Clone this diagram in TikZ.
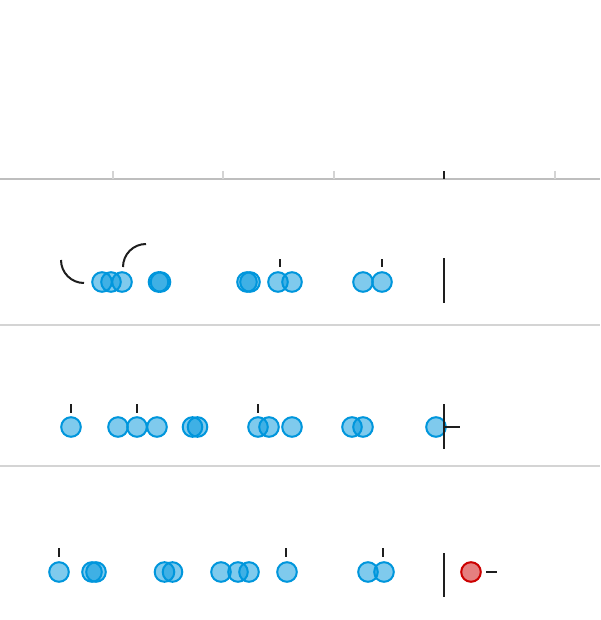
\documentclass[tikz,border=0pt]{standalone}
\usepackage{tikz}
\usetikzlibrary{calc}
\definecolor{dotblue}{RGB}{0,150,220}
\definecolor{dotred}{RGB}{204,0,0}
\definecolor{rulegray}{RGB}{190,190,190}
\definecolor{sepgray}{RGB}{212,212,212}
\definecolor{ink}{RGB}{30,30,30}

\begin{document}
\begin{tikzpicture}[x=0.5pt,y=-0.5pt,
        dot/.style={draw=dotblue,fill=dotblue,fill opacity=0.5,line width=1pt},
        reddot/.style={draw=dotred,fill=dotred,fill opacity=0.5,line width=1pt},
        tickmark/.style={ink,line width=1pt},
        bar/.style={ink,line width=1.3pt}]
        \useasboundingbox (0,0) rectangle (600,620);

        % axis and separators
        \draw [rulegray,line width=0.7pt] (0,179) -- (600,179);
        \foreach \x in {113,223,334,555}
            \draw [sepgray,line width=0.6pt] (\x,171) -- (\x,179);
        \draw [bar] (444,171.5) -- (444,179);
        \draw [sepgray,line width=0.7pt] (0,325) -- (600,325);
        \draw [sepgray,line width=0.7pt] (0,466) -- (600,466);

        % first row
        \def\ya{282}
        \foreach \x in {102,111,122,158.5,160.5,247,250,278,292,363,382}
            \filldraw [dot] (\x,\ya) circle (4.9pt);
        \foreach \x in {280,382}
            \draw [tickmark] (\x,259) -- (\x,267);
        \draw [tickmark] (61,260) arc [start angle=180,end angle=270,radius=11.5pt];
        \draw [tickmark] (123,267) arc [start angle=180,end angle=90,radius=11.5pt];
        \draw [bar] (444,258) -- (444,303);

        % second row
        \def\yb{427}
        \foreach \x in {71,118,137,157,192.5,197.5,258,269,292,352,363,436}
            \filldraw [dot] (\x,\yb) circle (4.9pt);
        \foreach \x in {71,137,258}
            \draw [tickmark] (\x,404) -- (\x,413);
        \draw [bar] (444,404) -- (444,449);
        \draw [tickmark] (444,\yb) -- (460,\yb);

        % third row
        \def\yc{572}
        \foreach \x in {59,92,96,164.5,172.5,221,238,249,287,368,384}
            \filldraw [dot] (\x,\yc) circle (4.9pt);
        \foreach \x in {59,286,383}
            \draw [tickmark] (\x,548) -- (\x,557);
        \draw [bar] (444,553) -- (444,597);
        \filldraw [reddot] (471,\yc) coordinate (r) circle (4.9pt);
        \draw [tickmark] (486,\yc) -- (497,\yc);
    \end{tikzpicture}
\end{document}
